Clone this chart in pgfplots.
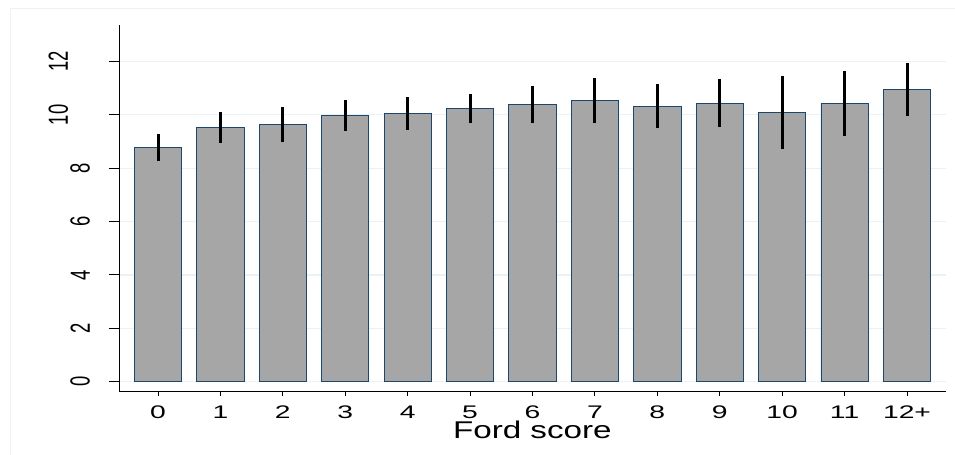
\documentclass[border=0pt]{standalone}
\usepackage{pgfplots}
\pgfplotsset{compat=1.18}
\usepackage{pgfplotstable}
\usepackage{fontspec}
\setmainfont{Liberation Sans}
\newfontfamily\xfont[FakeStretch=1.55]{Liberation Sans}
\newfontfamily\lfont[FakeStretch=1.37]{Liberation Sans}
\definecolor{barfill}{HTML}{A6A6A6}
\definecolor{baredge}{HTML}{1A476F}
\definecolor{gridc}{HTML}{EAF2F3}
\definecolor{framec}{HTML}{EEF2F4}
\pgfplotstableread{
x y e
0 8.78 0.49
1 9.53 0.57
2 9.64 0.66
3 9.98 0.57
4 10.05 0.61
5 10.24 0.55
6 10.39 0.70
7 10.54 0.85
8 10.33 0.82
9 10.43 0.90
10 10.09 1.37
11 10.43 1.22
12 10.95 0.99
}\datatable
\begin{document}
\begin{tikzpicture}[x=1bp,y=1bp]
\path[use as bounding box] (0,0) rectangle (955,455);
\draw[framec, line width=0.8bp] (10,0) -- (10,447) -- (955,447);
\begin{axis}[
  at={(119bp,64bp)}, anchor=south west,
  scale only axis, width=826.7bp, height=366bp,
  xmin=-0.625, xmax=12.62, ymin=-0.35, ymax=13.37,
  axis x line*=bottom, axis y line*=left,
  axis line style={black, line width=0.9bp},
  xtick={0,...,12},
  xticklabels={0,1,2,3,4,5,6,7,8,9,10,11,12+},
  ytick={0,2,...,12},
  ymajorgrids, grid style={gridc, line width=1.2bp},
  tick align=outside,
  major tick length=10bp,
  xtick style={black, line width=0.9bp, /pgfplots/major tick length=5bp},
  ytick style={black, line width=0.9bp},
  xticklabel style={font=\xfont\fontsize{18.3}{20}\selectfont, anchor=north, inner sep=0pt},
  xticklabel shift=5bp,
  yticklabel style={rotate=90, anchor=south, inner sep=0pt},
  yticklabel shift=19bp,
  yticklabel={\fontsize{18.5}{20}\selectfont\ifdim\tick pt>9pt\rule[-22bp]{0pt}{22bp}\fi\scalebox{1}[1.5]{\pgfmathprintnumber[assume math mode=true]{\tick}}},
  xlabel={Ford score},
  xlabel style={font=\lfont\fontsize{24.3}{26}\selectfont, anchor=base, at={(axis description cs:0.5,0)}, yshift=-48bp, inner sep=0pt},
  /pgf/number format/assume math mode=true,
  clip=false,
]
\addplot[ybar, bar width=47.3bp, fill=barfill, draw=baredge, line width=0.9bp,
  error bars/.cd, y dir=both, y explicit, error mark=none,
  error bar style={black, line width=3bp}]
  table[x=x, y=y, y error=e] {\datatable};
\end{axis}
\end{tikzpicture}
\end{document}
